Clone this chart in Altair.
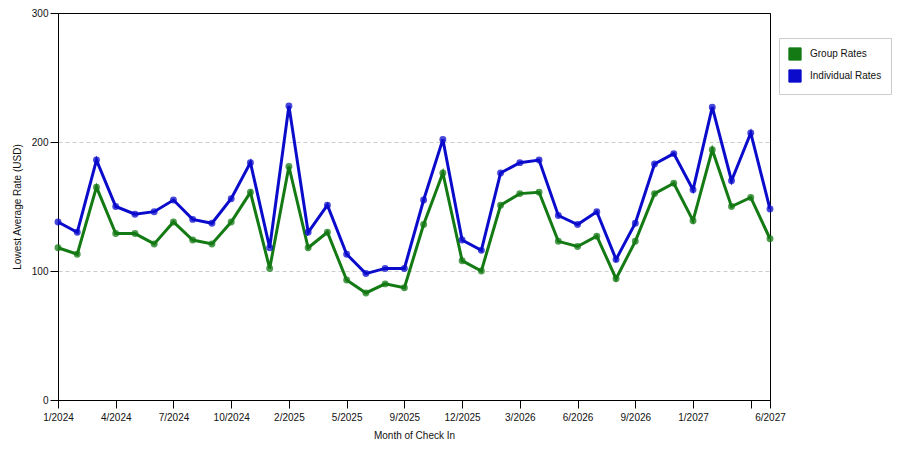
import altair as alt
import pandas as pd

# month labels for each data point (38 months with data)
months = [
    "1/2024", "2/2024", "3/2024", "4/2024", "5/2024", "6/2024",
    "7/2024", "8/2024", "9/2024", "10/2024", "11/2024", "12/2024",
    "2/2025", "3/2025", "4/2025", "5/2025", "6/2025", "7/2025",
    "9/2025", "10/2025", "11/2025", "12/2025", "1/2026", "2/2026",
    "3/2026", "4/2026", "5/2026", "6/2026", "7/2026", "8/2026",
    "9/2026", "10/2026", "11/2026", "1/2027", "2/2027", "3/2027",
    "5/2027", "6/2027",
]

group_rates = [
    118, 113, 165, 129, 129, 121, 138, 124, 121, 138, 161, 102,
    181, 118, 130, 93, 83, 90, 87, 136, 176, 108, 100, 151,
    160, 161, 123, 119, 127, 94, 123, 160, 168, 139, 194, 150,
    157, 125,
]

individual_rates = [
    138, 130, 186, 150, 144, 146, 155, 140, 137, 156, 184, 118,
    228, 130, 151, 113, 98, 102, 102, 155, 202, 124, 116, 176,
    184, 186, 143, 136, 146, 109, 137, 183, 191, 163, 227, 170,
    207, 148,
]

series_names = ["Group Rates", "Individual Rates"]
series_colors = ["#147a14", "#0b0bcc"]

tick_months = [
    "1/2024", "4/2024", "7/2024", "10/2024", "2/2025", "5/2025",
    "9/2025", "12/2025", "3/2026", "6/2026", "9/2026", "1/2027",
    "5/2027", "6/2027",
]
unlabeled_tick = "5/2027"


def build_frame() -> pd.DataFrame:
    rows = []
    for name, values in zip(series_names, [group_rates, individual_rates]):
        for month, value in zip(months, values):
            rows.append({"Month": month, "Series": name, "Rate": value})
    return pd.DataFrame(rows)


def main() -> None:
    df = build_frame()

    color_scale = alt.Scale(domain=series_names, range=series_colors)
    legend = alt.Legend(
        title=None,
        orient="none",
        legendX=721,
        legendY=25,
        symbolType="square",
        symbolSize=150,
        symbolOpacity=1,
        symbolStrokeColor="#333333",
        symbolStrokeWidth=1,
        strokeColor="#cccccc",
        padding=9,
        rowPadding=4,
        labelFontSize=10,
        labelOffset=8,
    )

    x = alt.X(
        "Month:O",
        sort=months,
        scale=alt.Scale(type="point", padding=0),
        title="Month of Check In",
        axis=alt.Axis(
            values=tick_months,
            labelAngle=0,
            labelExpr=f"datum.value == '{unlabeled_tick}' ? '' : datum.value",
            labelPadding=4,
            titlePadding=8,
            grid=False,
        ),
    )
    y = alt.Y(
        "Rate:Q",
        scale=alt.Scale(domain=[0, 300], nice=False),
        title="Lowest Average Rate (USD)",
        axis=alt.Axis(
            values=[0, 100, 200, 300],
            titlePadding=9,
            labelPadding=2,
            gridColor=alt.condition(
                "datum.value == 300", alt.value("#000000"), alt.value("#cccccc")
            ),
            gridDash=alt.condition(
                "datum.value == 300", alt.value([]), alt.value([4, 3])
            ),
        ),
    )

    base = alt.Chart(df).encode(x=x, y=y)

    lines = base.mark_line(strokeWidth=3).encode(
        color=alt.Color("Series:N", scale=color_scale, legend=legend),
    )
    points = base.mark_point(filled=True, size=48, opacity=0.75).encode(
        color=alt.Color("Series:N", scale=color_scale, legend=legend),
    )

    chart = (
        alt.layer(lines, points)
        .properties(
            width=712,
            height=387,
            autosize=alt.AutoSizeParams(type="none"),
            padding={"left": 50, "top": 5, "right": 122, "bottom": 42},
        )
        .configure_view(stroke="#000000", strokeWidth=1)
        .configure_axis(
            domainColor="#000000",
            tickColor="#000000",
            tickSize=8,
            labelFont="Liberation Sans",
            titleFont="Liberation Sans",
            labelFontSize=10,
            titleFontSize=10,
            titleFontWeight="normal",
            labelColor="#111111",
            titleColor="#111111",
        )
        .configure_legend(labelFont="Liberation Sans", labelColor="#111111")
    )

    chart.save("out.html", embed_options={"renderer": "svg", "actions": False})


if __name__ == "__main__":
    main()
